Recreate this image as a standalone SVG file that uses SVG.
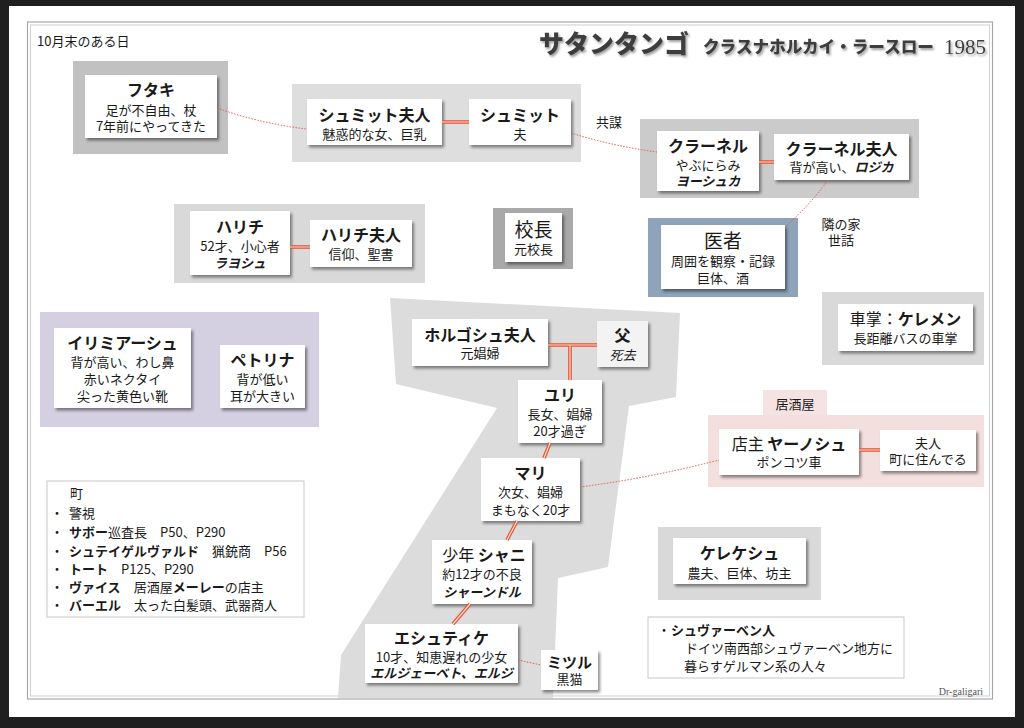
<svg xmlns="http://www.w3.org/2000/svg" width="1024" height="728" viewBox="0 0 1024 728">
<defs>
<filter id="sh" x="-10%" y="-10%" width="130%" height="140%"><feDropShadow dx="2" dy="2.5" stdDeviation="1.4" flood-color="#000" flood-opacity="0.45"/></filter>
<filter id="tsh" x="-5%" y="-20%" width="110%" height="150%"><feDropShadow dx="1.5" dy="2" stdDeviation="1" flood-color="#777" flood-opacity="0.7"/></filter>
</defs>
<style>
text{font-family:"Noto Sans CJK JP","Noto Sans",sans-serif;fill:#1a1a1a;text-anchor:middle}
.t{font-size:16px;font-weight:bold}
.s{font-size:13px}
.bi{font-weight:bold;font-style:italic}
.b{font-weight:bold}
.l{text-anchor:start}
.box{fill:#fff;filter:url(#sh)}
.note{fill:#fff;stroke:#c8c8c8;stroke-width:1}
.dbl1{stroke:#e2522f;stroke-width:3.6;fill:none}
.dbl2{stroke:#fbe0d6;stroke-width:1.2;fill:none}
.dot{stroke:#e0584a;stroke-width:1;stroke-dasharray:1.5 1.5;fill:none}
</style>
<rect x="0" y="0" width="1024" height="728" fill="#1f1f1f"/>
<rect x="9" y="6" width="1006" height="711" fill="#fff"/>
<rect x="27.5" y="22" width="965" height="677" fill="none" stroke="#a8a8a8" stroke-width="1.2"/>
<rect x="30.5" y="25" width="959" height="671" fill="none" stroke="#cfcfcf" stroke-width="1"/>

<text class="s l" x="37" y="46">10月末のある日</text>
<g id="title" filter="url(#tsh)">
<text x="539" y="53" class="l" style="font-size:25px;font-weight:900;fill:#3d3d3d">サタンタンゴ</text>
<text x="703" y="53" class="l" style="font-size:16.5px;font-weight:900;fill:#3d3d3d" textLength="231" lengthAdjust="spacingAndGlyphs">クラスナホルカイ・ラースロー</text>
<text x="944" y="54" class="l" style="font-family:'Liberation Serif',serif;font-size:21px;fill:#3d3d3d">1985</text>
</g>

<g id="futaki">
<rect x="73" y="61" width="155" height="93" fill="#c1c1c1"/>
<rect class="box" x="85" y="75" width="132" height="63"/>
<text class="t" x="151" y="96">フタキ</text>
<text class="s" x="151" y="115">足が不自由、杖</text>
<text class="s" x="151" y="131">7年前にやってきた</text>
</g>

<g id="schmidt-group">
<rect x="292" y="84" width="289" height="78" fill="#dedede"/>
<g id="schmidt-wife">
<rect class="box" x="307" y="99" width="135" height="46"/>
<text class="t" x="374.5" y="121">シュミット夫人</text>
<text class="s" x="374.5" y="139">魅惑的な女、巨乳</text>
</g>
<g id="schmidt">
<rect class="box" x="469" y="99" width="102" height="46"/>
<text class="t" x="520" y="121">シュミット</text>
<text class="s" x="520" y="139">夫</text>
</g>
</g>

<g id="harich-group">
<rect x="174" y="204" width="251" height="79" fill="#d9d9d9"/>
<g id="harich">
<rect class="box" x="190" y="211" width="100" height="64"/>
<text class="t" x="240" y="233">ハリチ</text>
<text class="s" x="240" y="251">52才、小心者</text>
<text class="s bi" x="240" y="268">ラヨシュ</text>
</g>
<g id="harich-wife">
<rect class="box" x="310" y="220" width="102" height="47"/>
<text class="t" x="361" y="241">ハリチ夫人</text>
<text class="s" x="361" y="259">信仰、聖書</text>
</g>
</g>

<g id="principal">
<rect x="493" y="208" width="80" height="61" fill="#a9a9a9"/>
<rect class="box" x="505" y="213" width="57" height="49"/>
<text x="533.5" y="237" style="font-size:19px">校長</text>
<text class="s" x="533.5" y="254">元校長</text>
</g>

<g id="kraner-group">
<rect x="640" y="119" width="279" height="79" fill="#cbcbcb"/>
<g id="kraner">
<rect class="box" x="657" y="131" width="102" height="60"/>
<text class="t" x="708" y="152">クラーネル</text>
<text class="s" x="708" y="170">やぶにらみ</text>
<text class="s bi" x="708" y="186">ヨーシュカ</text>
</g>
<g id="kraner-wife">
<rect class="box" x="774" y="134" width="135" height="46"/>
<text class="t" x="841.5" y="155">クラーネル夫人</text>
<text class="s" x="841.5" y="172">背が高い、<tspan class="bi">ロジカ</tspan></text>
</g>
</g>

<text class="s" x="609" y="127">共謀</text>

<g id="doctor">
<rect x="648" y="218" width="150" height="79" fill="#8fa4ba"/>
<rect class="box" x="661" y="225" width="124" height="64"/>
<text x="723" y="248" style="font-size:19px">医者</text>
<text class="s" x="723" y="266">周囲を観察・記録</text>
<text class="s" x="723" y="283">巨体、酒</text>
</g>
<text class="s" x="841" y="229">隣の家</text>
<text class="s" x="841" y="245">世話</text>

<g id="kelemen">
<rect x="822" y="292" width="162" height="73" fill="#d9d9d9"/>
<rect class="box" x="838" y="304" width="135" height="47"/>
<text x="905.5" y="325" style="font-size:16px">車掌：<tspan class="b">ケレメン</tspan></text>
<text class="s" x="905.5" y="343">長距離バスの車掌</text>
</g>

<g id="irimias-group">
<rect x="40" y="312" width="279" height="115" fill="#d5cfe2"/>
<g id="irimias">
<rect class="box" x="54" y="328" width="137" height="80"/>
<text class="t" x="122.5" y="349">イリミアーシュ</text>
<text class="s" x="122.5" y="367">背が高い、わし鼻</text>
<text class="s" x="122.5" y="384">赤いネクタイ</text>
<text class="s" x="122.5" y="401">尖った黄色い靴</text>
</g>
<g id="petrina">
<rect class="box" x="220" y="345" width="85" height="63"/>
<text class="t" x="262.5" y="366">ペトリナ</text>
<text class="s" x="262.5" y="384">背が低い</text>
<text class="s" x="262.5" y="401">耳が大きい</text>
</g>
</g>

<g id="town-note">
<rect class="note" x="47" y="481" width="257" height="136"/>
<text class="s l" x="70" y="498">町</text>
<text class="s" x="57" y="518">・</text><text class="s l" x="69" y="518">警視</text>
<text class="s" x="57" y="537">・</text><text class="s l" x="69" y="537"><tspan class="b">サボー</tspan>巡査長　P50、P290</text>
<text class="s" x="57" y="556">・</text><text class="s l" x="69" y="556"><tspan class="b">シュテイゲルヴァルド</tspan>　猟銃商　P56</text>
<text class="s" x="57" y="574">・</text><text class="s l" x="69" y="574"><tspan class="b">トート</tspan>　P125、P290</text>
<text class="s" x="57" y="592">・</text><text class="s l" x="69" y="592"><tspan class="b">ヴァイス</tspan>　居酒屋<tspan class="b">メーレー</tspan>の店主</text>
<text class="s" x="57" y="610">・</text><text class="s l" x="69" y="610"><tspan class="b">バーエル</tspan>　太った白髪頭、武器商人</text>
</g>

<g id="horgos-family">
<polygon points="390,298 680,313 676,397 629,406 608,567 558,578 553,698 338,698 341,655 497,408 396,384" fill="#dcdcdc"/>
<g id="horgos-wife">
<rect class="box" x="412" y="319" width="136" height="47"/>
<text class="t" x="480" y="341">ホルゴシュ夫人</text>
<text class="s" x="480" y="358">元娼婦</text>
</g>
<g id="father">
<rect class="box" x="597" y="321" width="51" height="46" style="fill:#f3f3f3"/>
<text class="t" x="622.5" y="341">父</text>
<text class="s" x="622.5" y="360" style="font-style:italic">死去</text>
</g>
<g id="yuri">
<rect class="box" x="518" y="380" width="84" height="63"/>
<text class="t" x="560" y="401">ユリ</text>
<text class="s" x="560" y="419">長女、娼婦</text>
<text class="s" x="560" y="436">20才過ぎ</text>
</g>
<g id="mari">
<rect class="box" x="481" y="458" width="99" height="63"/>
<text class="t" x="530.5" y="479">マリ</text>
<text class="s" x="530.5" y="497">次女、娼婦</text>
<text class="s" x="530.5" y="515">まもなく20才</text>
</g>
<g id="sanyi">
<rect class="box" x="432" y="540" width="100" height="64"/>
<text x="484" y="561" style="font-size:16px">少年 <tspan class="b">シャニ</tspan></text>
<text class="s" x="482" y="579">約12才の不良</text>
<text class="s bi" x="482" y="597">シャーンドル</text>
</g>
<g id="estike">
<rect class="box" x="365" y="624" width="153" height="59"/>
<text class="t" x="441.5" y="644">エシュティケ</text>
<text class="s" x="441.5" y="662">10才、知恵遅れの少女</text>
<text class="s bi" x="441.5" y="678">エルジェーベト、エルジ</text>
</g>
<g id="mitsuru">
<rect class="box" x="541" y="650" width="57" height="40"/>
<text class="t" x="569.5" y="668" style="font-size:15px">ミツル</text>
<text class="s" x="569.5" y="684">黒猫</text>
</g>
</g>

<g id="tavern-group">
<rect x="763" y="390" width="64" height="25" fill="#f5e3e3"/>
<text class="s" x="795" y="409">居酒屋</text>
<rect x="708" y="415" width="276" height="72" fill="#f4dfdf"/>
<g id="janos">
<rect class="box" x="719" y="429" width="140" height="46"/>
<text x="789" y="450" style="font-size:16px">店主 <tspan class="b">ヤーノシュ</tspan></text>
<text class="s" x="789" y="467">ポンコツ車</text>
</g>
<g id="janos-wife">
<rect class="box" x="880" y="430" width="96" height="41"/>
<text class="s" x="928" y="448">夫人</text>
<text class="s" x="928" y="464">町に住んでる</text>
</g>
</g>

<g id="kelekes">
<rect x="658" y="527" width="163" height="73" fill="#d9d9d9"/>
<rect class="box" x="673" y="538" width="133" height="46"/>
<text class="t" x="739.5" y="559">ケレケシュ</text>
<text class="s" x="739.5" y="578">農夫、巨体、坊主</text>
</g>

<g id="swabian-note">
<rect class="note" x="648" y="617" width="256" height="61"/>
<text class="s" x="664" y="635">・</text><text class="s l b" x="671" y="635">シュヴァーベン人</text>
<text class="s l" x="685" y="653">ドイツ南西部シュヴァーベン地方に</text>
<text class="s l" x="684" y="671">暮らすゲルマン系の人々</text>
</g>

<text x="983" y="695" style="font-family:'Liberation Serif',serif;font-size:10px;fill:#555;text-anchor:end">Dr-galigari</text>

<g id="connectors">
<path class="dot" d="M217,108 Q262,124 307,129"/>
<path class="dot" d="M571,133 Q612,146 657,152"/>
<path class="dot" d="M828,180 Q810,205 786,226"/>
<path class="dot" d="M580,487 Q650,478 719,460"/>
<path class="dot" d="M518,660 L541,665"/>
<g id="kin-lines">
<path class="dbl1" d="M442,122 H469 M290,247 H310 M759,162 H774 M859,450 H880 M548,345 H597 M570,345 V380 M550,443 L544,458 M517,521 L507,540 M470,604 L453,624"/>
<path class="dbl2" d="M442,122 H469 M290,247 H310 M759,162 H774 M859,450 H880 M548,345 H597 M570,345 V380 M550,443 L544,458 M517,521 L507,540 M470,604 L453,624"/>
</g>
</g>
</svg>
